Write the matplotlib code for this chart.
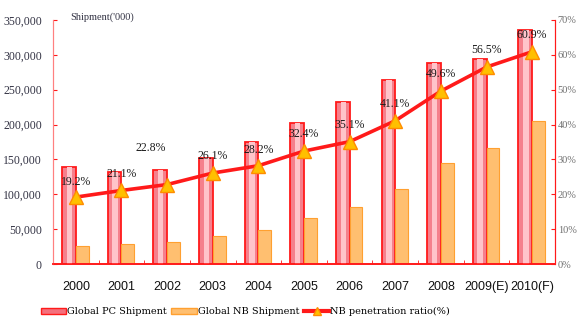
import matplotlib.pyplot as plt
from matplotlib.ticker import FuncFormatter, FixedLocator
from matplotlib.patches import Patch
from matplotlib.lines import Line2D

# Data
years = ["2000", "2001", "2002", "2003", "2004", "2005",
         "2006", "2007", "2008", "2009(E)", "2010(F)"]
pc_shipment = [139000, 132000, 135000, 152000, 175000, 202000,
               232000, 264000, 289000, 294000, 336000]
nb_shipment = [26000, 29000, 32000, 40000, 49000, 66000,
               82000, 108000, 145000, 167000, 205000]
nb_ratio = [19.2, 21.1, 22.8, 26.1, 28.2, 32.4, 35.1, 41.1, 49.6, 56.5, 60.9]

# label offsets in points (dx, dy) for the percentage labels
label_dx = [0, 0, -12, 0, 0, 0, 0, 0, 0, 0, 0]
label_dy = [11, 12, 26, 12, 11, 12, 12, 12, 12, 12, 12]

RED = "#ff1a1a"
SERIF = "Liberation Serif"

fig = plt.figure(figsize=(5.78, 3.22), dpi=100)
ax = fig.add_axes([0.0917, 0.180, 0.8685, 0.758])
ax2 = ax.twinx()

x = list(range(len(years)))

# PC bars: red rim, pink body, lighter stripe
ax.bar([i - 0.3 for i in x], pc_shipment, width=0.3, align="edge",
       color="#f5808c", edgecolor=RED, linewidth=1.3, zorder=2)
ax.bar([i - 0.2 for i in x], pc_shipment, width=0.12, align="edge",
       color="#ffc4ca", linewidth=0, zorder=3)

# NB bars
ax.bar(x, nb_shipment, width=0.28, align="edge",
       color="#ffbf70", edgecolor="#ffa030", linewidth=0.8, zorder=2)

ax.set_xlim(-0.5, len(years) - 0.5)
ax.set_ylim(0, 350000)
ax.yaxis.set_major_locator(FixedLocator(range(0, 350001, 50000)))
ax.yaxis.set_major_formatter(FuncFormatter(lambda v, p: f"{int(v):,}"))

ax2.set_ylim(0, 70)
ax2.yaxis.set_major_locator(FixedLocator(range(0, 71, 10)))
ax2.yaxis.set_major_formatter(FuncFormatter(lambda v, p: f"{int(v)}%"))

# penetration line
ax2.plot(x, nb_ratio, color=RED, linewidth=2.6, marker="^",
         markersize=10, markerfacecolor="#ffc000", markeredgecolor="#ff8c00",
         zorder=5)
for i, v in enumerate(nb_ratio):
    ax2.annotate(f"{v}%", (i, v), xytext=(label_dx[i], label_dy[i]),
                 textcoords="offset points", ha="center", va="center",
                 fontsize=8.5, family=SERIF, color="#1a1a1a", zorder=6)

# spines
for a in (ax, ax2):
    a.spines["top"].set_visible(False)
    a.spines["bottom"].set_color(RED)
    a.spines["left"].set_color("#ff8080")
    a.spines["right"].set_color(RED)
    a.spines["bottom"].set_linewidth(1.2)

ax.set_xticks(x)
ax.set_xticklabels(years, family="Liberation Sans", fontsize=9, color="#111111")
ax.set_xticks([i + 0.5 for i in x[:-1]], minor=True)
ax.tick_params(axis="x", which="major", length=0, pad=12)
ax.tick_params(axis="x", which="minor", direction="in", length=3, color=RED)
ax.tick_params(axis="y", direction="in", length=3, color=RED,
               labelsize=8.5, labelcolor="#333344", pad=8)
for t in ax.get_yticklabels():
    t.set_family(SERIF)
ax2.tick_params(axis="y", direction="in", length=3, color=RED,
                labelsize=7.5, labelcolor="#707070", pad=2)
for t in ax2.get_yticklabels():
    t.set_family(SERIF)

fig.text(0.121, 0.948, "Shipment('000)", family=SERIF, fontsize=7.5,
         color="#333344", va="center")

# legend
handles = [
    Patch(facecolor="#f5707c", edgecolor=RED),
    Patch(facecolor="#ffbf70", edgecolor="#ffa030"),
    Line2D([0], [0], color=RED, linewidth=3, marker="^", markersize=6,
           markerfacecolor="#ffc000", markeredgecolor="#ff8c00"),
]
fig.legend(handles, ["Global PC Shipment", "Global NB Shipment",
                     "NB penetration ratio(%)"],
           loc="center left", bbox_to_anchor=(0.055, 0.032), ncol=3,
           frameon=False, handlelength=2.6, handleheight=0.6,
           handletextpad=0.1, columnspacing=0.5,
           prop={"family": "DejaVu Serif", "size": 7})

fig.savefig("out.png", dpi=100)
